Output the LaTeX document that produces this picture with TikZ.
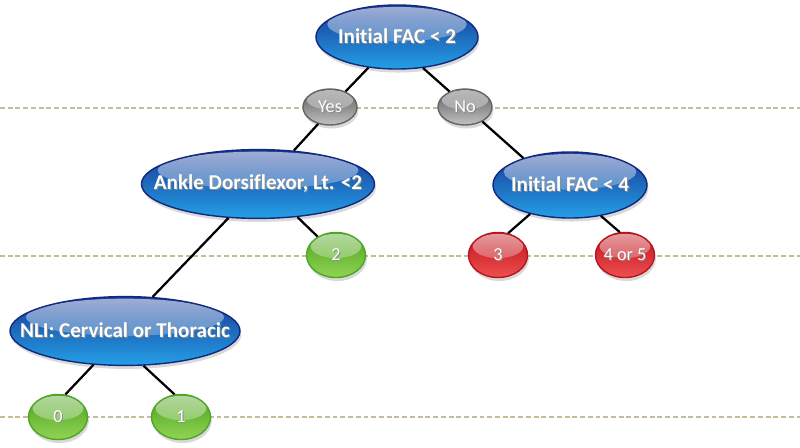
\documentclass[tikz,border=0pt]{standalone}
\usepackage{fontspec}
\setmainfont{Carlito}[Ligatures=NoCommon]
\usetikzlibrary{shapes.geometric,shadows,calc,fadings}
\definecolor{guidecol}{RGB}{196,189,151}
\definecolor{blueedge}{RGB}{18,40,125}
\definecolor{bluetop}{RGB}{24,56,150}
\definecolor{bluebot}{RGB}{36,160,230}
\definecolor{grayedge}{RGB}{100,100,100}
\definecolor{graytop}{RGB}{88,88,88}
\definecolor{graybot}{RGB}{195,195,195}
\definecolor{greenedge}{RGB}{80,165,40}
\definecolor{greentop}{RGB}{75,160,30}
\definecolor{greenbot}{RGB}{145,212,85}
\definecolor{rededge}{RGB}{180,22,32}
\definecolor{redtop}{RGB}{190,15,25}
\definecolor{redbot}{RGB}{238,80,80}
\tikzfading[name=glossfade,top color=transparent!40,bottom color=transparent!100]
% centred text of no width, with a soft dark shadow
\newcommand{\lbl}[1]{\makebox[0pt]{\rlap{\hspace{0.7pt}\raisebox{-0.7pt}{\textcolor{black!45}{#1}}}#1}}

\begin{document}
\begin{tikzpicture}[x=0.025cm,y=-0.025cm,
	gloss/.style={ellipse,inner sep=0pt,text=white,line width=1pt,
		drop shadow={opacity=.3,shadow xshift=1pt,shadow yshift=-2.5pt},
		path picture={\fill[white,path fading=glossfade] let \p1=(path picture bounding box.south west),
			\p2=(path picture bounding box.north east) in
			({0.5*\x1+0.5*\x2},{\y2-0.3*(\y2-\y1)}) ellipse ({0.43*(\x2-\x1)} and {0.27*(\y2-\y1)});}},
	question/.style={gloss,draw=blueedge,top color=bluetop,bottom color=bluebot,
		font=\fontsize{15}{18}\selectfont\bfseries},
	answer/.style={gloss,draw=grayedge,top color=graytop,bottom color=graybot,
		minimum width=1.35cm,minimum height=0.9cm,font=\fontsize{13}{15}\selectfont},
	low/.style={gloss,draw=greenedge,top color=greentop,bottom color=greenbot,
		minimum width=1.475cm,minimum height=1.125cm,font=\fontsize{13}{15}\selectfont},
	high/.style={gloss,draw=rededge,top color=redtop,bottom color=redbot,
		minimum width=1.475cm,minimum height=1.125cm,font=\fontsize{13}{15}\selectfont},
	branch/.style={line width=1.6pt,black},
	guideline/.style={guidecol,line width=1.2pt,dash pattern=on 3.5pt off 2pt}]
	\useasboundingbox (0,0) rectangle (800,447);
	% dashed level lines
	\foreach \lev in {108,256,417}
		\draw[guideline] (0,\lev) -- (800,\lev);
	% decision nodes
	\node[question,minimum width=4.05cm,minimum height=1.6cm] (fac2) at (397,37) {\lbl{Initial FAC < 2}};
	\node[answer] (yes) at (330,107) {\lbl{Yes}};
	\node[answer] (no) at (465,107) {\lbl{No}};
	\node[question,minimum width=5.825cm,minimum height=1.72cm] (ankle) at (258,184) {\lbl{Ankle Dorsiflexor, Lt. <2}};
	\node[question,minimum width=3.85cm,minimum height=1.65cm] (fac4) at (570,185) {\lbl{Initial FAC < 4}};
	\node[question,minimum width=5.75cm,minimum height=1.72cm] (nli) at (125,331) {\lbl{NLI: Cervical or Thoracic}};
	% outcomes
	\node[low] (two) at (336,255) {\lbl{2}};
	\node[high] (three) at (498,255) {\lbl{3}};
	\node[high] (four) at (625,255) {\lbl{4 or 5}};
	\node[low] (zero) at (58,417) {\lbl{0}};
	\node[low] (one) at (181,417) {\lbl{1}};
	% branches
	\draw[branch] (fac2.227) -- (yes.45);
	\draw[branch] (fac2.310) -- (no.135);
	\draw[branch] (yes.235) -- (ankle.43);
	\draw[branch] (no.320) -- (fac4.150);
	\draw[branch] (ankle.229) -- (nli.51);
	\draw[branch] (ankle.320) -- (two.135);
	\draw[branch] (fac4.216) -- (three.65);
	\draw[branch] (fac4.315) -- (four.103);
	\draw[branch] (nli.227) -- (zero.72);
	\draw[branch] (nli.298) -- (one.106);
\end{tikzpicture}
\end{document}
